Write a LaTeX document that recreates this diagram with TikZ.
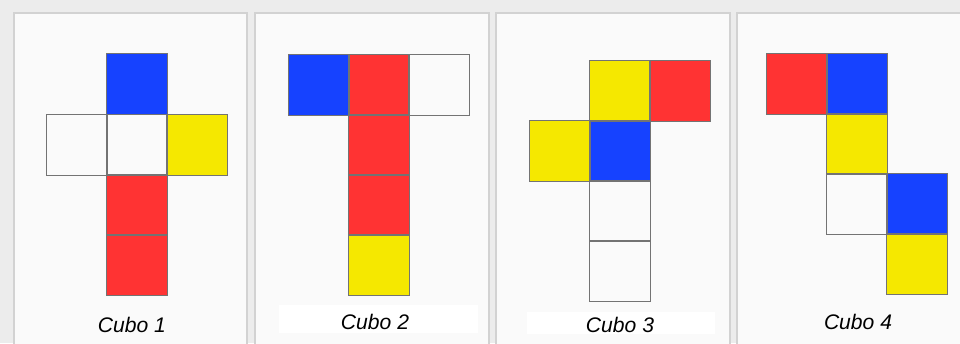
\documentclass[tikz,border=0pt]{standalone}
\usepackage{fontspec}
\setmainfont{Liberation Sans}
\usetikzlibrary{positioning}

\definecolor{netblue}{RGB}{22,66,255}
\definecolor{netred}{RGB}{255,51,51}
\definecolor{netyellow}{RGB}{245,232,0}
\definecolor{framegray}{RGB}{236,236,236}
\definecolor{panelgray}{RGB}{250,250,250}
\definecolor{panelline}{RGB}{210,210,210}

\begin{document}
\begin{tikzpicture}[x = 0.025cm, y = -0.025cm,
    face/.style = {minimum size = 1.5cm, inner sep = 0pt},
    edge/.style = {draw = black!55, line width = 0.7pt},
    panel/.style = {draw = panelline, line width = 1.2pt},
    caption/.style = {font = \fontsize{15}{18}\selectfont\itshape}]

    \useasboundingbox (0, 0) rectangle (960, 343);
    \fill[framegray] (0, 0) rectangle (960, 343);

    %panels
    \fill[panelgray] (14, 13) rectangle (247, 350);
    \fill[panelgray] (255, 13) rectangle (489, 350);
    \fill[panelgray] (496, 13) rectangle (730, 350);
    \fill[panelgray] (737, 13) rectangle (965, 350);
    \draw[panel] (14, 350) -- (14, 13) -- (247, 13) -- (247, 350);
    \draw[panel] (255, 350) -- (255, 13) -- (489, 13) -- (489, 350);
    \draw[panel] (496, 350) -- (496, 13) -- (730, 13) -- (730, 350);
    \draw[panel] (737, 350) -- (737, 13) -- (965, 13);

    %white strips under the captions
    \fill[white] (279, 305) rectangle (478, 333);
    \fill[white] (527, 312) rectangle (715, 334);

    %cube 1
    \node[face, fill = netblue] (c1top) at (137, 84) {};
    \node[face, fill = panelgray] (c1left) at (77, 145) {};
    \node[face, fill = panelgray] (c1mid) at (137, 145) {};
    \node[face, fill = netyellow] (c1right) at (197, 145) {};
    \node[face, fill = netred] (c1low) at (137, 205) {};
    \node[face, fill = netred] (c1bot) at (137, 265) {};
    \node[caption] (cap1) at (132, 325) {Cubo 1};

    %cube 2
    \node[face, fill = netblue] (c2left) at (319, 85) {};
    \node[face, fill = netred] (c2top) at (379, 85) {};
    \node[face, fill = panelgray] (c2right) at (439, 85) {};
    \node[face, fill = netred] (c2mid) at (379, 145) {};
    \node[face, fill = netred] (c2low) at (379, 205) {};
    \node[face, fill = netyellow] (c2bot) at (379, 265) {};
    \node[caption] (cap2) at (375, 322) {Cubo 2};

    %cube 3
    \node[face, fill = netyellow] (c3top) at (620, 91) {};
    \node[face, fill = netred] (c3right) at (680, 91) {};
    \node[face, fill = netyellow] (c3left) at (560, 151) {};
    \node[face, fill = netblue] (c3mid) at (620, 151) {};
    \node[face, fill = panelgray] (c3low) at (620, 211) {};
    \node[face, fill = panelgray] (c3bot) at (620, 271) {};
    \node[caption] (cap3) at (620, 325) {Cubo 3};

    %cube 4
    \node[face, fill = netred] (c4left) at (797, 84) {};
    \node[face, fill = netblue] (c4top) at (857, 84) {};
    \node[face, fill = netyellow] (c4mid) at (857, 144) {};
    \node[face, fill = panelgray] (c4low) at (857, 204) {};
    \node[face, fill = netblue] (c4right) at (917, 204) {};
    \node[face, fill = netyellow] (c4bot) at (917, 264) {};
    \node[caption] (cap4) at (858, 322) {Cubo 4};

    %outlines of the faces, on top of all fills
    \foreach \f in {c1top, c1left, c1mid, c1right, c1low, c1bot,
                    c2left, c2top, c2right, c2mid, c2low, c2bot,
                    c3top, c3right, c3left, c3mid, c3low, c3bot,
                    c4left, c4top, c4mid, c4low, c4right, c4bot}
        \draw[edge] (\f.south west) rectangle (\f.north east);

\end{tikzpicture}
\end{document}
